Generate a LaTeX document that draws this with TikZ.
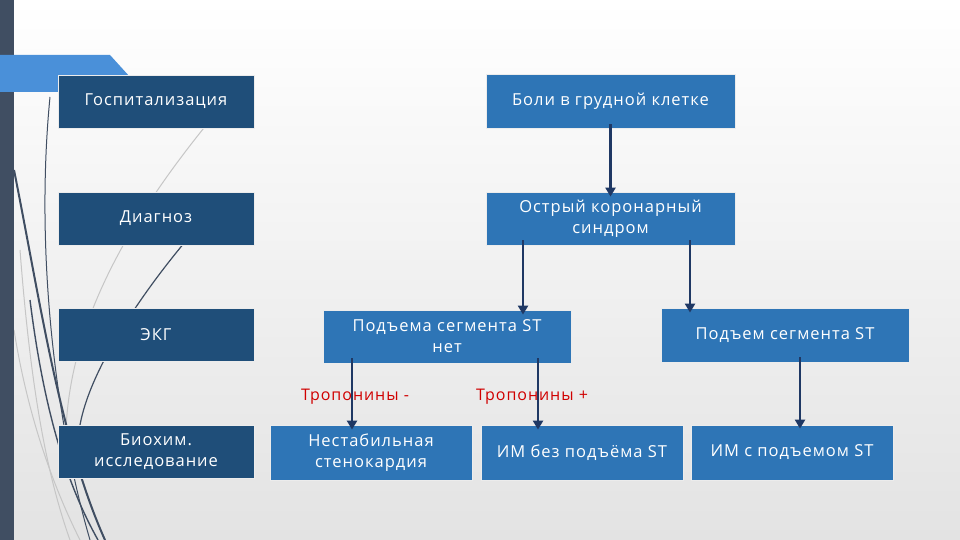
\documentclass[tikz,border=0pt]{standalone}
\usepackage{fontspec}
\setmainfont{Open Sans}[LetterSpace=6]
\usetikzlibrary{arrows.meta}
\definecolor{navy}{HTML}{1F4E79}
\definecolor{midblue}{HTML}{2E75B6}
\definecolor{arrcol}{HTML}{1F3864}
\definecolor{barcol}{HTML}{404E62}
\definecolor{tabcol}{HTML}{4A90D9}
\definecolor{trred}{HTML}{D00000}
\begin{document}
\begin{tikzpicture}[x=1pt,y=-1pt,
  boxbase/.style={rectangle, draw=gray!15, line width=0.8pt, text=white, align=center,
    inner sep=2pt, font=\fontsize{16.5}{21}\selectfont},
  leftbox/.style={boxbase, fill=navy, minimum width=196pt, minimum height=53pt},
  rightbox/.style={boxbase, fill=midblue, minimum height=54pt},
  arr/.style={draw=arrcol, line width=2.6pt, -{Triangle[length=9pt,width=10pt]}},
  trlabel/.style={text=trred, font=\fontsize{16}{19}\selectfont},
  wispdark/.style={draw=barcol, line width=1.2pt},
  wisplight/.style={draw=gray!45, line width=1pt}]
\useasboundingbox (0,0) rectangle (960,540);
\shade[top color=white, bottom color=gray!22] (0,0) rectangle (960,540);
% decorative wisps
\draw[wisplight] (212,118) .. controls (120,230) and (70,330) .. (66,430);
\draw[wisplight] (14,330) .. controls (30,430) and (60,500) .. (80,540);
\draw[wisplight] (20,250) .. controls (30,380) and (45,470) .. (70,540);
\draw[wispdark] (190,236) .. controls (140,295) and (90,370) .. (80,425);
\draw[wispdark, line width=1pt] (50,97) .. controls (35,250) and (55,420) .. (90,540);
\draw[wispdark, line width=2pt] (14,170) .. controls (40,300) and (60,440) .. (105,540);
\draw[wispdark, line width=1.4pt] (30,300) .. controls (45,420) and (70,490) .. (98,540);
% left bar and tab
\fill[barcol] (0,0) rectangle (14,540);
\fill[tabcol] (0,55) -- (110,55) -- (130,77) -- (130,92) -- (0,92) -- cycle;
% left column
\node[leftbox] (hosp) at (156,101.5) {Госпитализация};
\node[leftbox] (diag) at (156,218.5) {Диагноз};
\node[leftbox] (ekg) at (156,334.5) {ЭКГ};
\node[leftbox] (bioch) at (156,451.5) {Биохим.\\исследование};
% right part
\node[rightbox, minimum width=249pt] (boli) at (610.5,101) {Боли в грудной клетке};
\node[rightbox, minimum width=249pt, minimum height=53pt] (oks) at (610.5,218.5) {Острый коронарный\\синдром};
\node[rightbox, minimum width=248pt, minimum height=53pt] (pnet) at (447,336.5) {Подъема сегмента ST\\нет};
\node[rightbox, minimum width=248pt] (pst) at (785,335) {Подъем сегмента ST};
\node[rightbox, minimum width=202pt, minimum height=55pt] (nest) at (371,452.5) {Нестабильная\\стенокардия};
\node[rightbox, minimum width=202pt, minimum height=55pt] (imbez) at (582,452.5) {ИМ без подъёма ST};
\node[rightbox, minimum width=202pt, minimum height=55pt] (imst) at (792,452.5) {ИМ с  подъемом ST};
% labels
\node[trlabel] (trm) at (355,397) {Тропонины -};
\node[trlabel] (trp) at (532,397) {Тропонины +};
% arrows
\draw[arr] ([yshift=4pt]boli.south) -- ([yshift=-5pt]oks.north);
\coordinate (a1) at ([xshift=-87.5pt]oks.south);
\coordinate (a2) at ([xshift=79.5pt]oks.south);
\draw[arr] ([yshift=5pt]a1) -- ([yshift=-5pt]a1 |- pnet.north);
\draw[arr] ([yshift=5pt]a2) -- ([yshift=-5pt]a2 |- pst.north);
\coordinate (a3) at ([xshift=-95pt]pnet.south);
\coordinate (a4) at ([xshift=91pt]pnet.south);
\draw[arr] ([yshift=5pt]a3) -- ([yshift=-5pt]a3 |- nest.north);
\draw[arr] ([yshift=5pt]a4) -- ([yshift=-5pt]a4 |- imbez.north);
\coordinate (a5) at ([xshift=15pt]pst.south);
\draw[arr] ([yshift=5pt]a5) -- ([yshift=-4pt]a5 |- imst.north);
\end{tikzpicture}
\end{document}
